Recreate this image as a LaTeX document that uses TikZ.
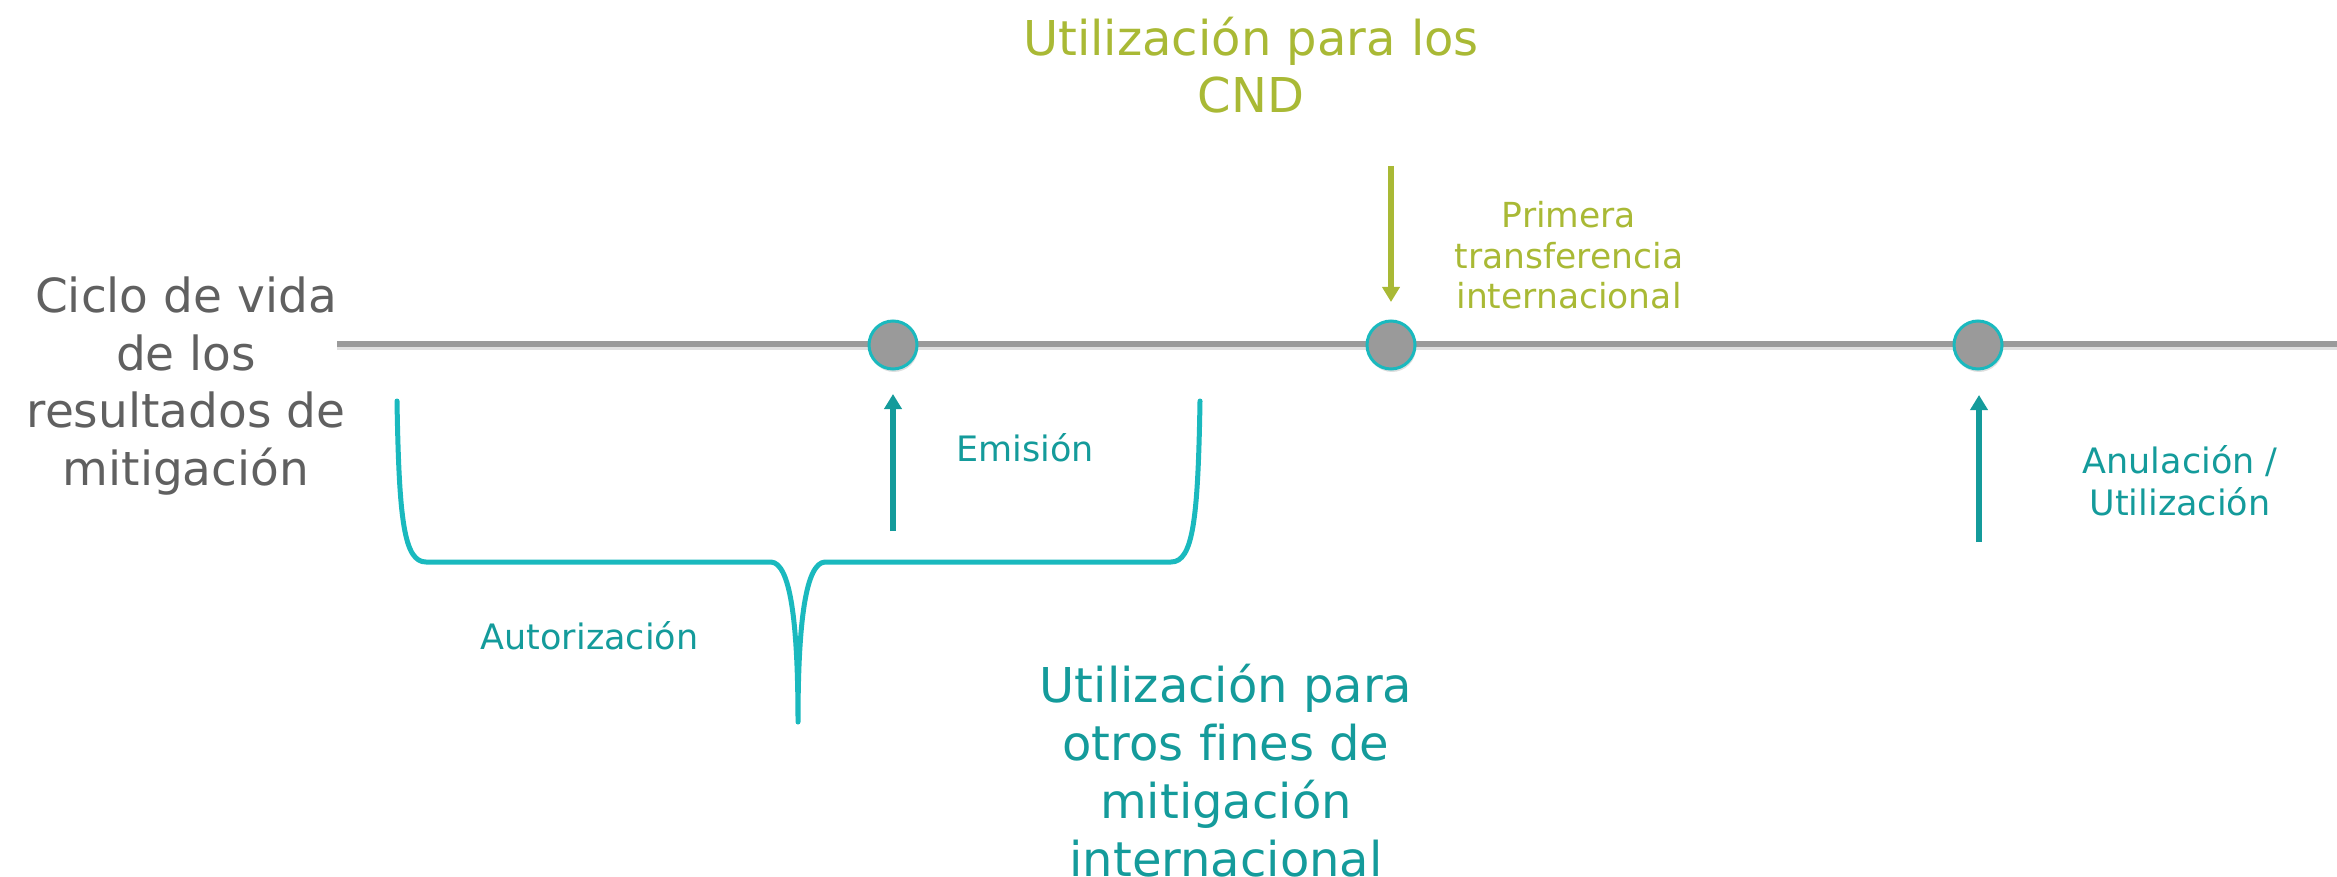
\documentclass[tikz,border=0pt]{standalone}
\usepackage{fontspec}
\setmainfont[Ligatures=NoCommon]{DejaVu Sans}
\usetikzlibrary{arrows.meta,shadows}
\definecolor{olivec}{HTML}{A9B935}
\definecolor{tealtxt}{HTML}{149B9B}
\definecolor{bracec}{HTML}{1AB9BE}
\definecolor{graytxt}{HTML}{606060}
\definecolor{lineg}{HTML}{9A9A9A}
\begin{document}
\begin{tikzpicture}[x=1pt,y=-1pt,
  txt/.style={inner sep=0pt, align=center},
  bigtxt/.style={txt, font=\fontsize{48}{57.5}\selectfont},
  smalltxt/.style={txt, font=\fontsize{35}{41.5}\selectfont},
  dotnode/.style={circle, minimum size=48pt, inner sep=0pt, fill=lineg, draw=bracec, line width=3pt,
     drop shadow={opacity=0.25, shadow xshift=1pt, shadow yshift=-3pt}},
  tealarrow/.style={draw=tealtxt, line width=5.5pt, -{Triangle[width=17pt,length=15pt]}},
  olivearrow/.style={draw=olivec, line width=5.5pt, -{Triangle[width=17pt,length=15pt]}},
  bracestyle/.style={draw=bracec, line width=5pt, line cap=round, line join=round},
  mainline/.style={draw=lineg, line width=6pt}
]
\useasboundingbox (0,0) rectangle (2337,877);

% main timeline
\coordinate (lstart) at (337,344);
\coordinate (lend) at (2337,344);
\draw[draw=black!12, line width=4pt] ([yshift=-4pt]lstart) -- ([yshift=-4pt]lend);
\draw[mainline] (lstart) -- (lend);

% dots
\node[dotnode] (c1) at (893,345) {};
\node[dotnode] (c2) at (1391,345) {};
\node[dotnode] (c3) at (1978,345) {};

% arrows
\coordinate (e0) at (893,531);
\coordinate (e1) at (893,394);
\draw[tealarrow] (e0) -- (e1);
\coordinate (t0) at (1391,166);
\coordinate (t1) at (1391,302);
\draw[olivearrow] (t0) -- (t1);
\coordinate (a0) at (1979,542);
\coordinate (a1) at (1979,395);
\draw[tealarrow] (a0) -- (a1);

% brace
\coordinate (bl) at (397,401);
\coordinate (bt) at (798,722);
\coordinate (br) at (1200,401);
\draw[bracestyle] (bl) .. controls (399,520) and (404,562) .. (426,562) -- (771,562)
   .. controls (790,563) and (798,620) .. (bt)
   .. controls (798,620) and (806,563) .. (825,562) -- (1171,562)
   .. controls (1193,562) and (1198,520) .. (br);

% texts
\node[txt, font=\fontsize{47}{57.8}\selectfont, text=graytxt] (ciclo) at (186,386)
  {Ciclo de vida\\de los\\resultados de\\mitigación};
\node[bigtxt, text=olivec] (cnd) at (1251,65) {Utilización para los\\CND};
\node[smalltxt, font=\fontsize{34.5}{40.5}\selectfont, text=olivec] (prim) at (1569,255.5)
  {Primera\\transferencia\\internacional};
\node[smalltxt, text=tealtxt] (emis) at (1025,448) {Emisión};
\node[smalltxt, text=tealtxt] (auto) at (589.5,636) {Autorización};
\node[smalltxt, text=tealtxt] (anul) at (2180,480.5) {Anulación /\\Utilización};
\node[bigtxt, font=\fontsize{48}{58}\selectfont, text=tealtxt] (otros) at (1226,771)
  {Utilización para\\otros fines de\\mitigación\\internacional};
\end{tikzpicture}
\end{document}
